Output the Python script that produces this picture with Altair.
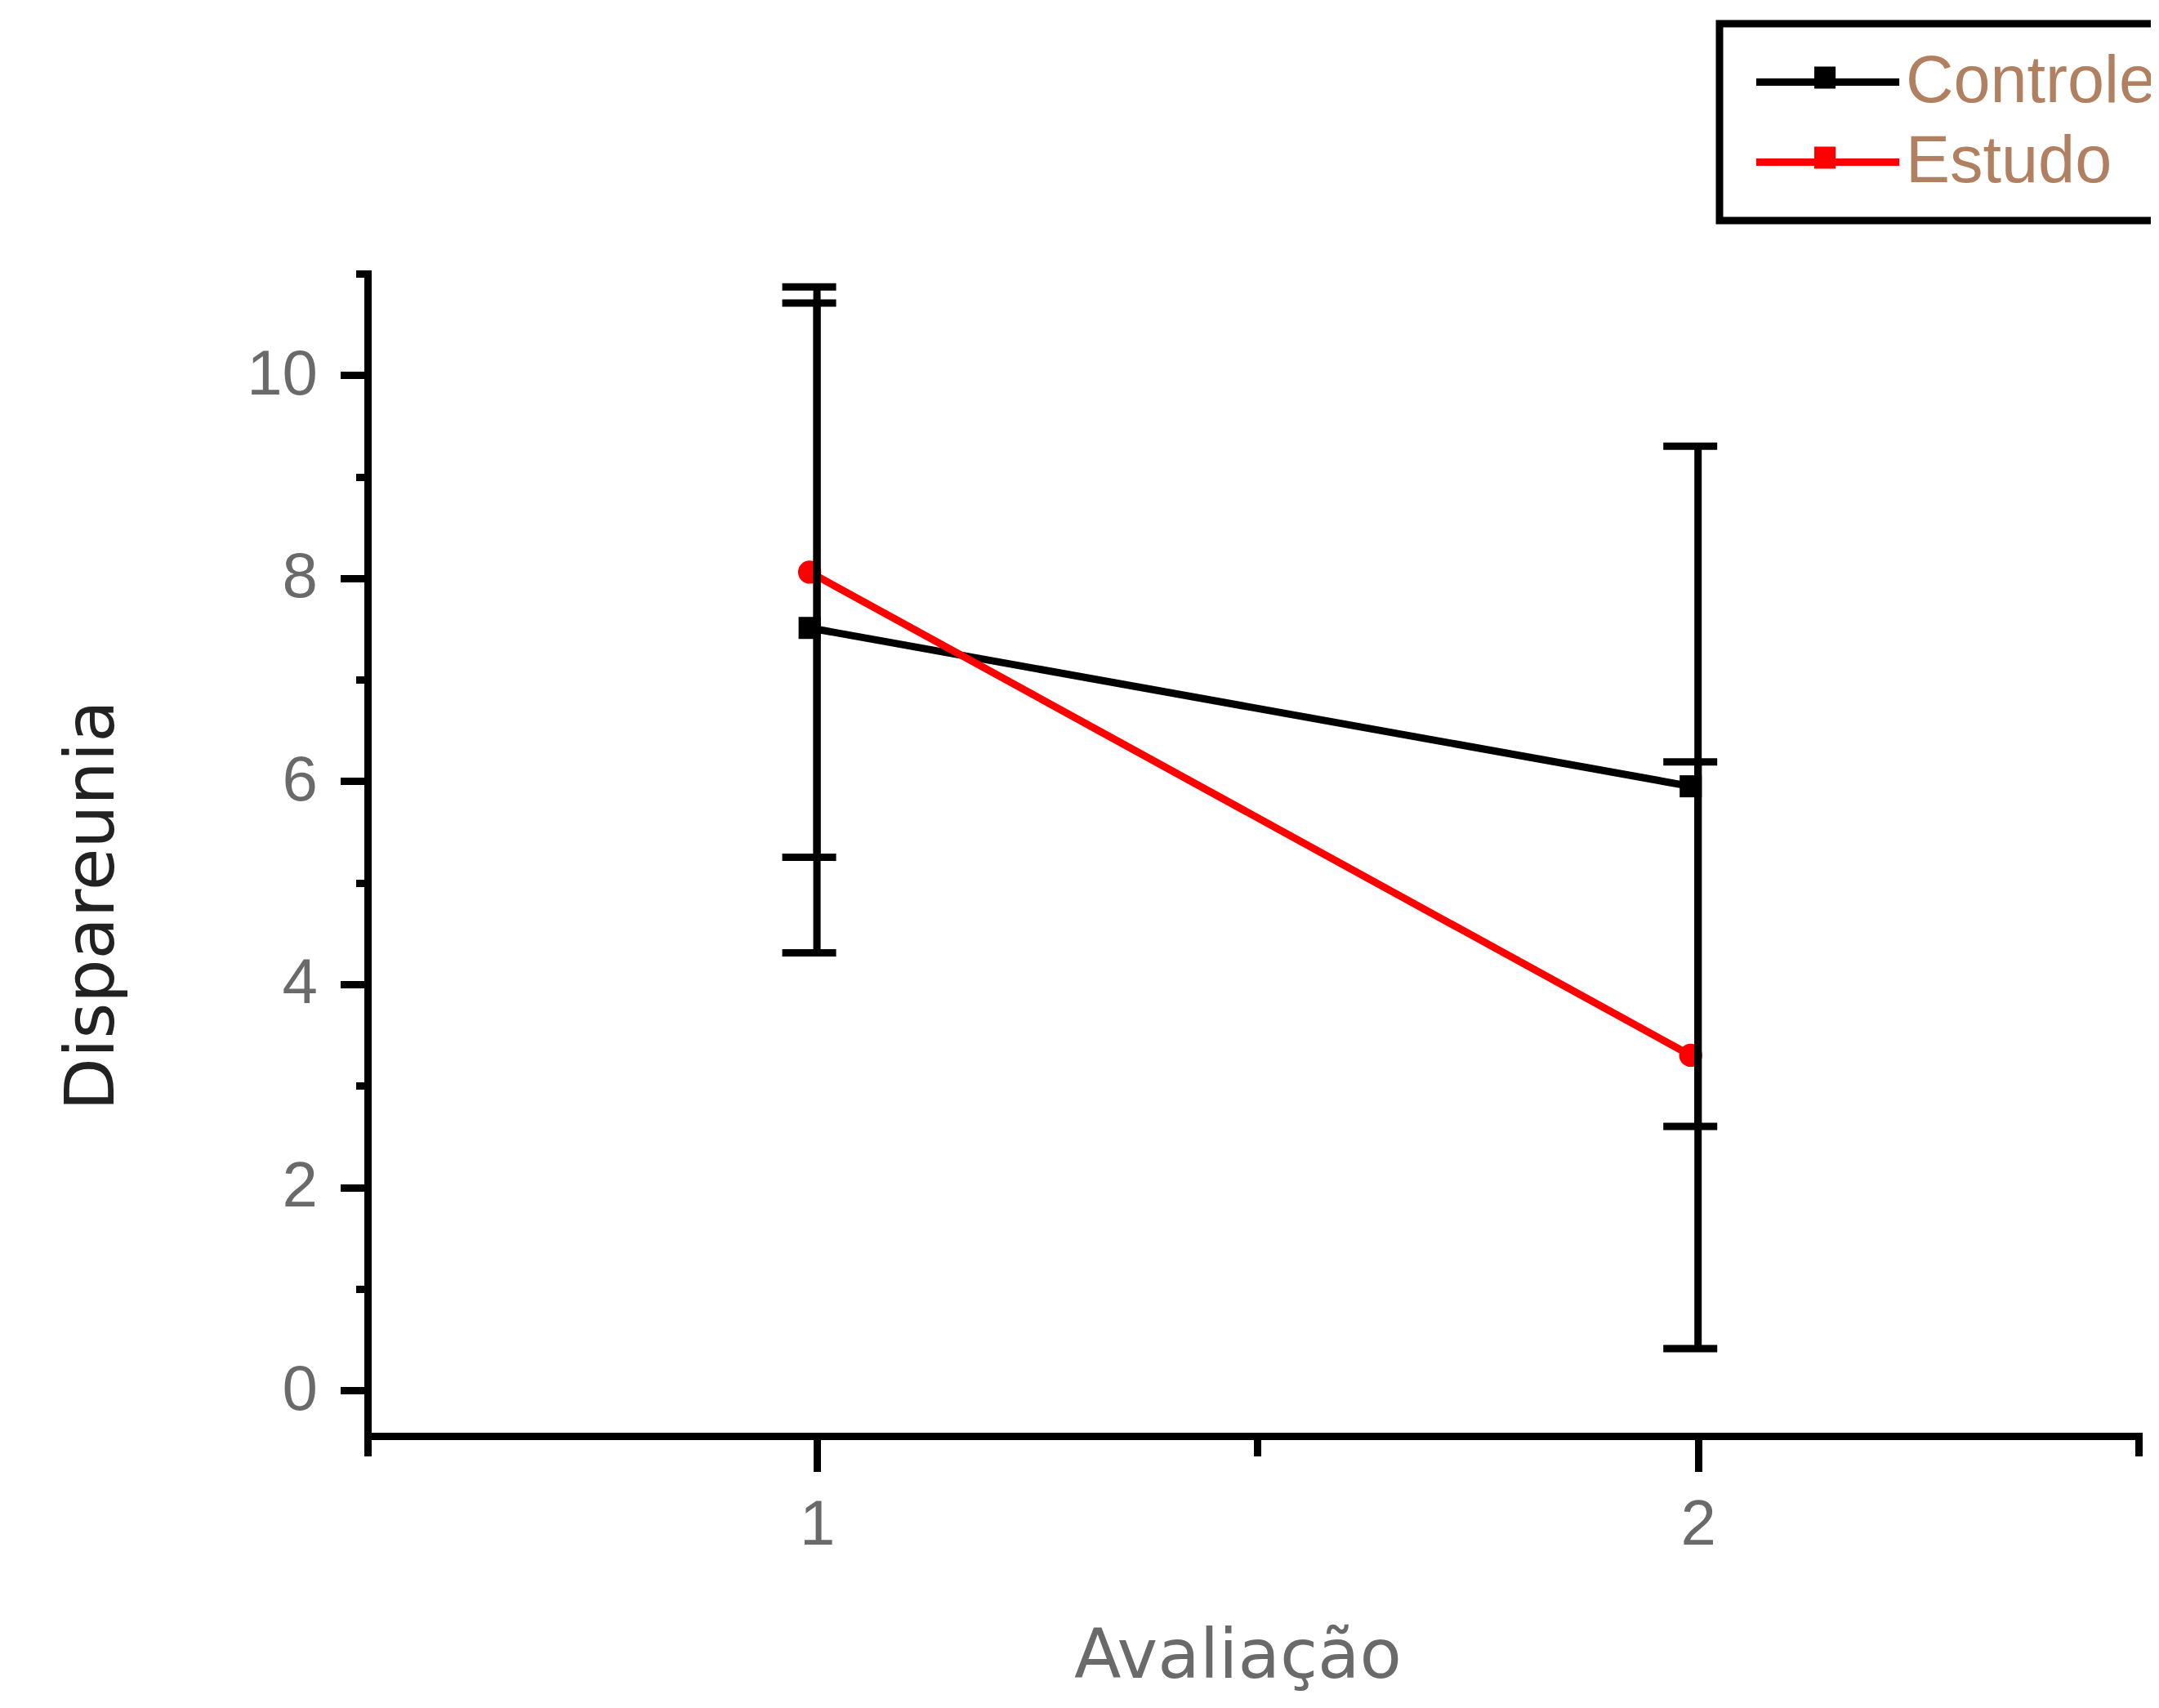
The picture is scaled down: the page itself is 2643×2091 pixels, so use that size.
import altair as alt
import pandas as pd

# ---- data ----
avaliacao = [1, 2]
series = ["Controle", "Estudo"]
controle_media = [7.51, 5.95]
controle_dp = [3.20, 3.35]
estudo_media = [8.06, 3.30]
estudo_dp = [2.81, 2.89]
y_tick_values = list(range(0, 12))
x_tick_values = [0.49, 1, 1.5, 2, 2.5]
series_colors = ["#000000", "#ff0000"]

rows = []
for s, med, dp in [("Controle", controle_media, controle_dp), ("Estudo", estudo_media, estudo_dp)]:
    for x, m, d in zip(avaliacao, med, dp):
        rows.append({"Avaliacao": x, "serie": s, "media": m, "lo": m - d, "hi": m + d})
df = pd.DataFrame(rows)
caps = df.melt(id_vars=["Avaliacao", "serie"], value_vars=["lo", "hi"], value_name="cap")

# ---- scales / axes ----
x_axis = alt.Axis(
    values=x_tick_values,
    title="Avaliação",
    labelExpr="datum.value % 1 === 0 ? format(datum.value, 'd') : ''",
    tickSize={"condition": {"test": "datum.value % 1 === 0", "value": 43.5}, "value": 24.5},
    labelPadding=27,
    labelBaseline="top",
    titleX=1065,
    titleY=295.5,
    titleAlign="center",
    titleBaseline="alphabetic",
    titleColor="#6a6a6a",
    titleFontSize=84,
)
y_axis = alt.Axis(
    values=y_tick_values,
    title="Dispareunia",
    labelExpr="datum.value % 2 === 0 ? format(datum.value, 'd') : ''",
    tickSize={"condition": {"test": "datum.value % 2 === 0", "value": 33.5}, "value": 14.5},
    labelPadding=28,
    titleAngle=270,
    titleX=-311.5,
    titleY=773,
    titleAlign="center",
    titleBaseline="alphabetic",
    titleColor="#222222",
    titleFontSize=84,
)
x_scale = alt.Scale(domain=[0.49, 2.5], nice=False, zero=False)
y_scale = alt.Scale(domain=[-0.45, 11], nice=False, zero=False)
color_scale = alt.Scale(domain=series, range=series_colors)

X = alt.X("Avaliacao:Q", scale=x_scale, axis=x_axis)
Ymed = alt.Y("media:Q", scale=y_scale, axis=y_axis)

# legend symbol: line segment with a marker, drawn with 9px strokes
# (unit = sqrt(symbolSize)/2 = 30 px)
legend_symbol = ("M-2.92,0H2.92"
                 "M-0.55,-0.48H0.32"
                 "M-0.55,-0.2H0.32"
                 "M-0.55,0.12H0.32")

leg = alt.Legend(
    title=None,
    orient="none",
    legendX=1655,
    legendY=-306,
    padding=31,
    rowPadding=16,
    symbolType=legend_symbol,
    symbolSize=3600,
    symbolStrokeWidth=9,
    symbolOffset=61,
    symbolOpacity=1,
    labelOffset=55,
    labelFont="Liberation Sans",
    labelFontSize=81,
    labelColor="#b08060",
    labelLimit=2000,
    strokeColor="#000000",
    fillColor="#ffffff",
)

base = alt.Chart(df)

lines = base.mark_line(strokeWidth=9, xOffset=-9).encode(
    x=X,
    y=Ymed,
    color=alt.Color("serie:N", scale=color_scale, legend=leg),
)

pts_c = base.transform_filter(alt.datum.serie == "Controle").mark_point(
    shape="square", filled=True, size=729, color="#000000", opacity=1, xOffset=-9
).encode(x=X, y=Ymed)

pts_e = base.transform_filter(alt.datum.serie == "Estudo").mark_point(
    shape="circle", filled=True, size=800, color="#ff0000", opacity=1, xOffset=-9
).encode(x=X, y=Ymed)

bars = base.mark_rule(strokeWidth=9, color="#000000").encode(
    x=X,
    y=alt.Y("lo:Q", scale=y_scale, axis=y_axis),
    y2="hi:Q",
)

cap_marks = alt.Chart(caps).mark_rule(
    strokeWidth=9, color="#000000", xOffset=-42.5, x2Offset=23.5
).encode(
    x=X,
    x2="Avaliacao:Q",
    y=alt.Y("cap:Q", scale=y_scale, axis=y_axis),
)

chart = alt.layer(lines, pts_c, pts_e, bars, cap_marks).properties(
    width=2168,
    height=1423,
    padding={"left": 442, "top": 327, "right": 15, "bottom": 320},
    autosize=alt.AutoSizeParams(type="none"),
    background="white",
).configure_view(
    stroke=None
).configure_axis(
    grid=False,
    domainColor="#000000",
    domainWidth=9,
    domainCap="square",
    tickColor="#000000",
    tickWidth=9,
    labelFont="Liberation Sans",
    labelFontSize=78,
    labelColor="#6a6a6a",
    titleFont="DejaVu Sans",
    titleFontWeight="normal",
).configure_legend(
    strokeWidth=9,
)

chart.save("out.html", embed_options={"renderer": "svg", "actions": False})
